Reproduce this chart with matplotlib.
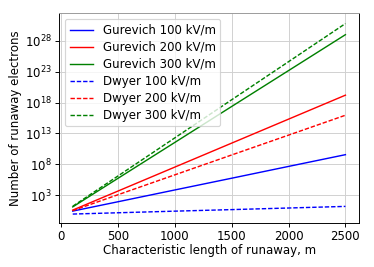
import numpy as np
import matplotlib.pyplot as plt

# characteristic length of runaway, m
length = np.array([100, 500, 1000, 1500, 2000, 2500])

# log10 of number of runaway electrons
gurevich_100 = np.array([0.42, 1.94, 3.85, 5.75, 7.66, 9.56])
gurevich_200 = np.array([0.58, 3.68, 7.56, 11.44, 15.32, 19.2])
gurevich_300 = np.array([1.1, 5.75, 11.56, 17.38, 23.19, 29.0])
dwyer_100 = np.array([-0.06, 0.15, 0.41, 0.66, 0.92, 1.18])
dwyer_200 = np.array([0.5, 3.08, 6.30, 9.52, 12.73, 15.95])
dwyer_300 = np.array([1.2, 6.13, 12.3, 18.47, 24.63, 30.8])

dpi = 85
fig = plt.figure(figsize=(374 / dpi, 267 / dpi), dpi=dpi)
ax = fig.add_subplot(111)
fig.subplots_adjust(left=0.158, right=0.96, top=0.951, bottom=0.165)

lw = 1.2
dash = (3.1, 1.35)
ax.plot(length, 10**gurevich_100, 'b-', lw=lw, label="Gurevich 100 kV/m")
ax.plot(length, 10**gurevich_200, 'r-', lw=lw, label="Gurevich 200 kV/m")
ax.plot(length, 10**gurevich_300, 'g-', lw=lw, label="Gurevich 300 kV/m")
ax.plot(length, 10**dwyer_100, 'b--', lw=lw, dashes=dash, label="Dwyer 100 kV/m")
ax.plot(length, 10**dwyer_200, 'r--', lw=lw, dashes=dash, label="Dwyer 200 kV/m")
ax.plot(length, 10**dwyer_300, 'g--', lw=lw, dashes=dash, label="Dwyer 300 kV/m")

ax.set_yscale('log')
ax.set_ylim(10**-1.5, 10**32.5)
ax.set_yticks([10.0**k for k in range(3, 33, 5)])
ax.minorticks_off()
ax.set_xticks([0, 500, 1000, 1500, 2000, 2500])
ax.tick_params(pad=2.5)
ax.set_xlabel("Characteristic length of runaway, m", labelpad=0.5)
ax.set_ylabel("Number of runaway electrons", labelpad=3)
ax.grid(True, color='#d0d0d0')
ax.spines['top'].set_color('#999999')
ax.legend(loc='upper left', labelspacing=0.34)

fig.savefig('out.png', dpi=dpi)
